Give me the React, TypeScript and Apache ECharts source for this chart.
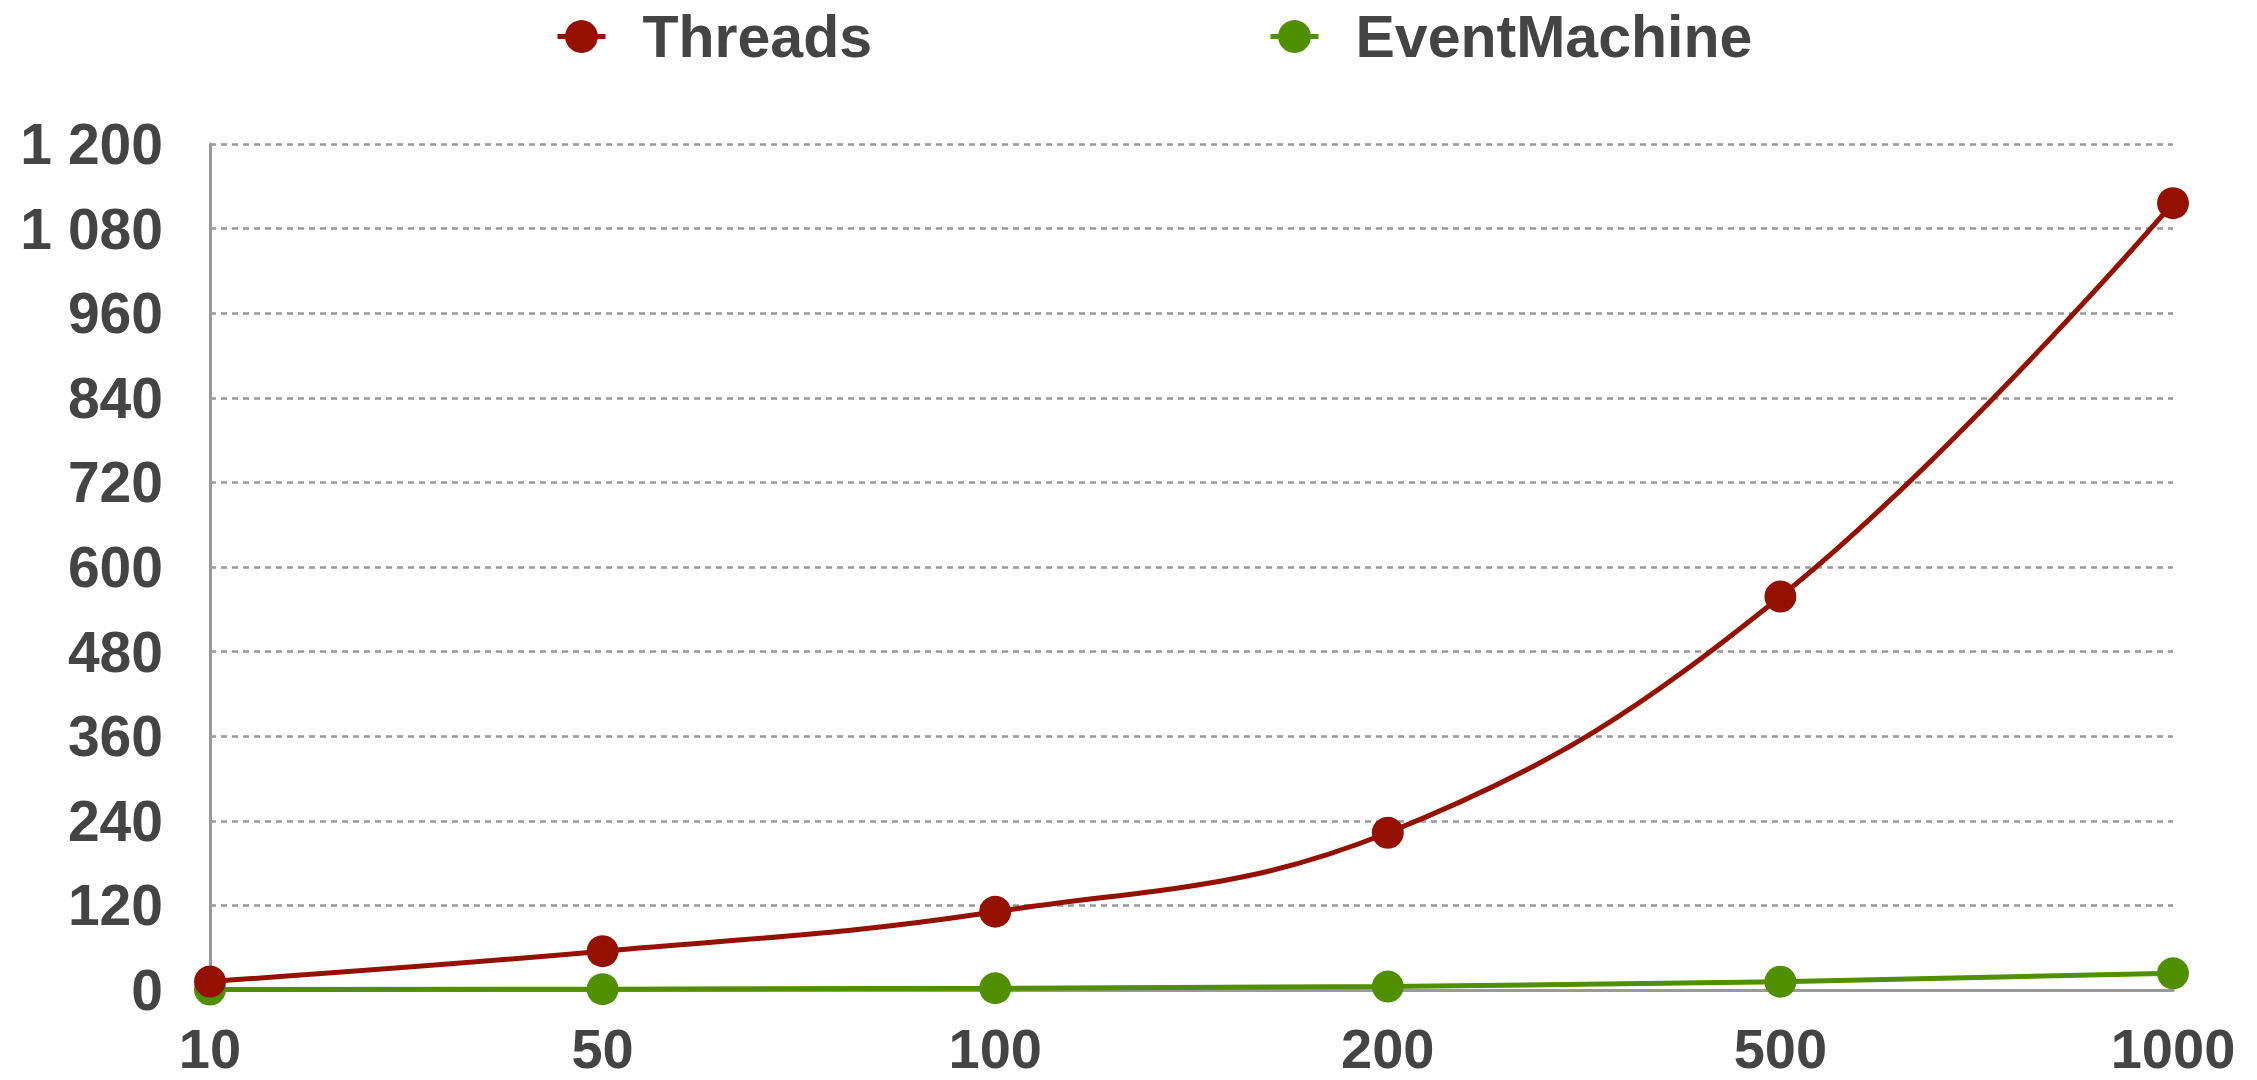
import React, { useEffect, useRef } from "react";
import * as echarts from "echarts";

// Number of concurrent connections
const categories = ["10", "50", "100", "200", "500", "1000"];
// Measured time per configuration
const threadsValues = [12, 55, 111, 223, 558, 1116];
const eventMachineValues = [0.6, 1.2, 2.5, 4.8, 11.8, 23.6];
const seriesNames = ["Threads", "EventMachine"];
const yTicks = { min: 0, max: 1200, interval: 120 };

const FONT = "'Liberation Sans', Arial, Helvetica, sans-serif";
const TEXT_COLOR = "#444444";
const RED = "#941100";
const GREEN = "#4f8f00";

// "1200" -> "1 200"
const spaced = (v: number) => String(v).replace(/\B(?=(\d{3})+(?!\d))/g, " ");

export default function App() {
  const ref = useRef<HTMLDivElement>(null);

  useEffect(() => {
    if (!ref.current) return;
    const chart = echarts.init(ref.current, null, { renderer: "svg" });
    chart.setOption({
      animation: false,
      backgroundColor: "#ffffff",
      legend: {
        top: 2,
        left: 550,
        itemGap: 396,
        itemWidth: 48,
        itemHeight: 41,
        lineStyle: { width: 5 },
        textStyle: {
          fontFamily: FONT,
          fontWeight: "bold",
          fontSize: 59,
          color: TEXT_COLOR,
          padding: [0, 0, 0, 32],
        },
        data: seriesNames,
      },
      grid: { left: 210, right: 84, top: 144, bottom: 90, containLabel: false },
      xAxis: {
        type: "category",
        data: categories,
        boundaryGap: false,
        axisLine: { lineStyle: { color: "#999999", width: 3 } },
        axisTick: { show: false },
        axisLabel: {
          margin: 30,
          lineHeight: 56,
          fontFamily: FONT,
          fontWeight: "bold",
          fontSize: 56,
          color: TEXT_COLOR,
        },
        splitLine: { show: false },
      },
      yAxis: {
        type: "value",
        min: yTicks.min,
        max: yTicks.max,
        interval: yTicks.interval,
        axisLine: { show: true, lineStyle: { color: "#999999", width: 3 } },
        axisTick: { show: false },
        axisLabel: {
          margin: 47,
          fontFamily: FONT,
          fontWeight: "bold",
          fontSize: 57,
          color: TEXT_COLOR,
          formatter: (v: number) => spaced(v),
        },
        splitLine: {
          show: true,
          lineStyle: { color: "#999999", width: 2.5, type: [6, 5] },
        },
      },
      series: [
        {
          name: seriesNames[0],
          type: "line",
          data: threadsValues,
          smooth: 0.4,
          z: 3,
          symbol: "circle",
          symbolSize: 32,
          lineStyle: { color: RED, width: 5 },
          itemStyle: { color: RED },
        },
        {
          name: seriesNames[1],
          type: "line",
          data: eventMachineValues,
          smooth: false,
          z: 2,
          symbol: "circle",
          symbolSize: 32,
          lineStyle: { color: GREEN, width: 5 },
          itemStyle: { color: GREEN },
        },
      ],
    });
    return () => chart.dispose();
  }, []);

  return (
    <div
      ref={ref}
      style={{ position: "fixed", left: 0, top: 0, width: 2257, height: 1080, background: "#fff" }}
    />
  );
}
